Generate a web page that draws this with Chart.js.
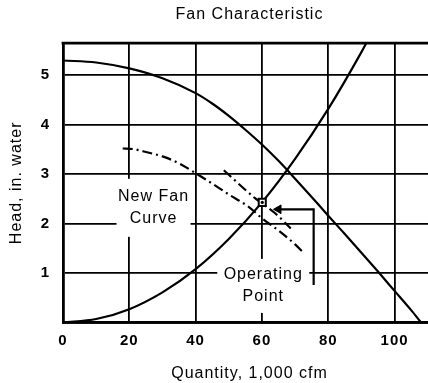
<!DOCTYPE html>
<html>
<head>
<meta charset="utf-8">
<title>Fan Characteristic</title>
<script src="https://cdn.jsdelivr.net/npm/chart.js@4.4.1/dist/chart.umd.min.js"></script>
<style>
	html, body { margin: 0; padding: 0; background: #fff; overflow: hidden; }
	#wrap { width: 443px; height: 383px; }
</style>
</head>
<body>
<div id="wrap"><canvas id="chart" width="443" height="383"></canvas></div>
<script>
// values (quantity in 1,000 cfm, head in in. water)
var fanX = [0, 10, 20, 30, 40, 45, 50, 55, 60, 65, 70, 75, 80, 85, 90, 95, 100, 105, 108];
var fanHead = [5.30, 5.26, 5.14, 4.94, 4.64, 4.43, 4.18, 3.90, 3.60, 3.27, 2.91, 2.54, 2.16, 1.79, 1.41, 1.03, 0.64, 0.25, 0.0];

var systemX = [0, 10, 20, 30, 40, 50, 60, 70, 80, 90, 94];
var systemHead = [0, 0.07, 0.27, 0.61, 1.08, 1.69, 2.43, 3.31, 4.32, 5.47, 5.97];

var newFanX = [18, 21, 25, 30, 35, 40, 45, 50, 56, 60, 65, 70, 72.7];
var newFanHead = [3.52, 3.51, 3.45, 3.36, 3.22, 3.02, 2.81, 2.59, 2.34, 2.11, 1.86, 1.58, 1.40];

var shiftX = [48.5, 58, 64, 68.7];
var shiftHead = [3.08, 2.51, 2.21, 1.90];

var opPoint = [60.1, 2.43];

var arrowX = [75.6, 75.6, 65];
var arrowHead = [0.76, 2.29, 2.29];

var xTicks = [0, 20, 40, 60, 80, 100];
var yTicks = [1, 2, 3, 4, 5];

var labelNewFan = { x: 27.3, y: 2.32, lines: ['New Fan', 'Curve'], w: 74, h: 58 };
var labelOp = { x: 60.4, y: 0.74, lines: ['Operating', 'Point'], w: 92, h: 54 };

var FONT = '"Liberation Sans", Arial, Helvetica, sans-serif';

function toPoints(xs, ys) {
	return xs.map(function (x, i) { return { x: x, y: ys[i] }; });
}

var paperLook = {
	id: 'paperLook',
	beforeDraw: function (chart) {
		var ctx = chart.ctx;
		ctx.save();
		ctx.fillStyle = '#fff';
		ctx.fillRect(0, 0, chart.width, chart.height);
		ctx.restore();
		ctx.letterSpacing = '1px';
	},
	beforeDatasetsDraw: function (chart) {
		var ctx = chart.ctx;
		var xs = chart.scales.x, ys = chart.scales.y;
		[labelNewFan, labelOp].forEach(function (lb) {
			var cx = xs.getPixelForValue(lb.x);
			var cy = ys.getPixelForValue(lb.y);
			ctx.save();
			ctx.fillStyle = '#fff';
			ctx.fillRect(cx - lb.w / 2, cy - lb.h / 2, lb.w, lb.h);
			ctx.fillStyle = '#000';
			ctx.font = '16px ' + FONT;
			ctx.textAlign = 'center';
			ctx.textBaseline = 'middle';
			ctx.fillText(lb.lines[0], cx, cy - 11);
			ctx.fillText(lb.lines[1], cx, cy + 11);
			ctx.restore();
		});
	},
	afterDatasetsDraw: function (chart) {
		var ctx = chart.ctx;
		var a = chart.chartArea;
		ctx.save();
		ctx.strokeStyle = '#000';
		ctx.lineWidth = 2.8;
		ctx.beginPath();
		ctx.moveTo(a.left - 1.4, a.top);
		ctx.lineTo(a.right, a.top);
		ctx.stroke();
		ctx.restore();
	}
};

var curve = function (xs, ys, dash) {
	return {
		data: toPoints(xs, ys),
		showLine: true,
		borderColor: '#000',
		borderWidth: 2.2,
		borderDash: dash || [],
		pointRadius: 0,
		tension: 0.35,
		cubicInterpolationMode: 'monotone'
	};
};

new Chart(document.getElementById('chart'), {
	type: 'scatter',
	data: {
		datasets: [
			{
				data: [{ x: opPoint[0], y: opPoint[1] }],
				pointStyle: 'circle',
				pointRadius: 1.6,
				backgroundColor: '#000',
				borderWidth: 0
			},
			{
				data: [{ x: opPoint[0], y: opPoint[1] }],
				pointStyle: 'rect',
				pointRadius: 5,
				backgroundColor: '#fff',
				borderColor: '#000',
				borderWidth: 2
			},
			{
				data: [{ x: arrowX[2], y: arrowHead[2] }],
				pointStyle: 'triangle',
				rotation: -90,
				pointRadius: 5,
				backgroundColor: '#000',
				borderColor: '#000',
				borderWidth: 1
			},
			{
				data: toPoints(arrowX, arrowHead),
				showLine: true,
				borderColor: '#000',
				borderWidth: 2.2,
				pointRadius: 0,
				tension: 0
			},
			curve(fanX, fanHead),
			curve(systemX, systemHead),
			curve(newFanX, newFanHead, [10, 4, 2, 4]),
			curve(shiftX, shiftHead, [10, 4, 2, 4])
		]
	},
	options: {
		responsive: false,
		animation: false,
		layout: { padding: 0 },
		plugins: {
			legend: { display: false },
			tooltip: { enabled: false },
			title: {
				display: true,
				text: 'Fan Characteristic',
				fullSize: false,
				color: '#000',
				font: { family: FONT, size: 16, weight: 'normal' },
				padding: { top: 5, bottom: 19 }
			}
		},
		scales: {
			x: {
				type: 'linear',
				min: 0,
				max: 112.5,
				afterFit: function (scale) { scale.height = 60.5; },
				afterBuildTicks: function (scale) {
					scale.ticks = xTicks.map(function (v) { return { value: v }; });
				},
				ticks: {
					color: '#000',
					padding: 9,
					maxRotation: 0,
					font: { family: FONT, size: 15, weight: 'bold' }
				},
				grid: { color: '#000', lineWidth: 1.8, drawTicks: false },
				border: { display: true, color: '#000', width: 2.8 },
				title: {
					display: true,
					text: 'Quantity, 1,000 cfm',
					color: '#000',
					font: { family: FONT, size: 16 },
					padding: { top: 0, bottom: 0 }
				}
			},
			y: {
				type: 'linear',
				min: 0,
				max: 5.65,
				afterFit: function (scale) { scale.width = 63; },
				afterBuildTicks: function (scale) {
					scale.ticks = [0].concat(yTicks).map(function (v) { return { value: v }; });
				},
				ticks: {
					color: '#000',
					padding: 13,
					font: { family: FONT, size: 15, weight: 'bold' },
					callback: function (v) { return v === 0 ? '' : v; }
				},
				grid: { color: '#000', lineWidth: 1.8, drawTicks: false },
				border: { display: true, color: '#000', width: 2.8 },
				title: {
					display: true,
					text: 'Head, in. water',
					color: '#000',
					font: { family: FONT, size: 16 },
					padding: { top: 7, bottom: 0 }
				}
			}
		}
	},
	plugins: [paperLook]
});
</script>
</body>
</html>
